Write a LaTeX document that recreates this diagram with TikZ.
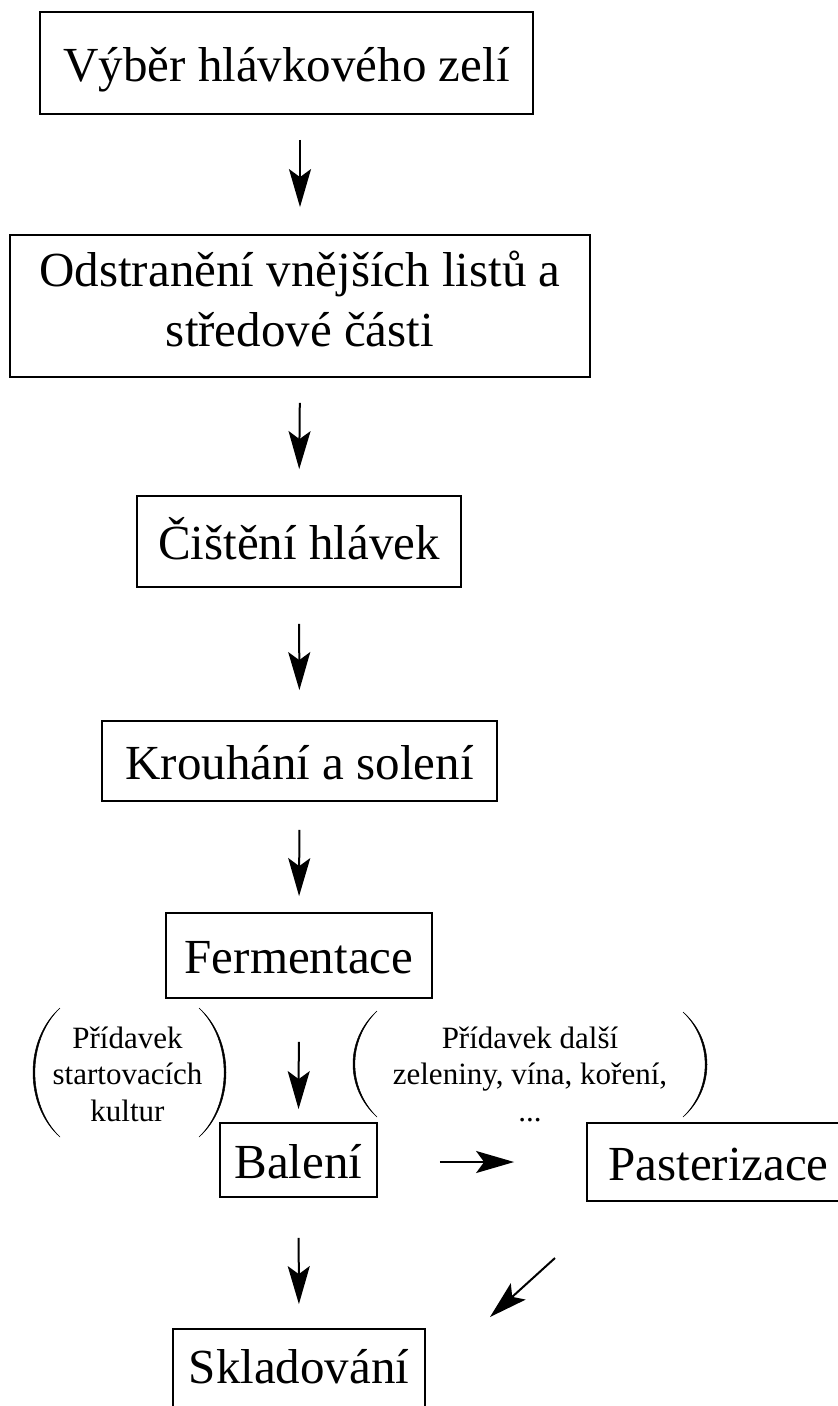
\documentclass[tikz,border=0pt]{standalone}
\usepackage{fontspec}
\setmainfont{Liberation Serif}
\usepackage{tikz}
\usetikzlibrary{arrows.meta}

\newcommand{\stagefont}{\fontsize{49}{60}\selectfont}
\newcommand{\notefont}{\fontsize{31}{36.5}\selectfont}

\begin{document}
\begin{tikzpicture}[x=1pt, y=-1pt,
    stage/.style={draw, line width=1.8pt, inner sep=0pt, align=center, font=\stagefont},
    oneline/.style={text height=36pt, text depth=0pt},
    note/.style={inner sep=0pt, align=center, font=\notefont},
    arr/.style={line width=2pt, -{Stealth[length=38pt, width=22pt, inset=8pt]}},
    paren/.style={fill=black, line width=0.5pt}]

    \useasboundingbox (0,0) rectangle (838,1406);
    \clip (0,0) rectangle (838,1406);

    \node[stage, oneline, minimum width=493pt, minimum height=102pt] (vyber) at (286.5,63) {Výběr hlávkového zelí};

    \node[stage, minimum width=580pt, minimum height=142pt] (odstr) at (300,306) {Odstranění vnějších listů a\\středové části\rule[-14pt]{0pt}{0pt}};

    \node[stage, oneline, minimum width=324pt, minimum height=91pt] (cisteni) at (299,541.5) {Čištění hlávek};

    \node[stage, oneline, minimum width=395pt, minimum height=80pt] (krouh) at (299.5,761) {Krouhání a solení};

    \node[stage, oneline, minimum width=266pt, minimum height=85pt] (ferm) at (299,955.5) {Fermentace};

    \node[note] (start) at (127.5,1074) {Přídavek\\startovacích\\kultur};
    \node[note] (dalsi) at (530,1074) {Přídavek další\\zeleniny, vína, koření,\\...};

    \node[stage, oneline, minimum width=157pt, minimum height=74pt] (baleni) at (298.5,1160) {Balení};

    \node[stage, oneline, minimum width=263pt, minimum height=78pt] (paster) at (718.5,1162) {Pasterizace};

    \node[stage, oneline, text depth=10pt, minimum width=252pt, minimum height=82pt] (sklad) at (299,1370) {Skladování};

    \coordinate (dfrom) at (555,1258);
    \coordinate (dto) at (490,1317);

    \draw[paren] (60,1008) .. controls (24,1040) and (24,1105) .. (60,1137) .. controls (26.5,1105) and (26.5,1040) .. (60,1008);
    \draw[paren] (199,1008) .. controls (235,1040) and (235,1105) .. (199,1137) .. controls (232.5,1105) and (232.5,1040) .. (199,1008);
    \draw[paren] (377,1011) .. controls (345,1040) and (345,1088) .. (377,1117) .. controls (347.5,1088) and (347.5,1040) .. (377,1011);
    \draw[paren] (683,1012) .. controls (715,1040) and (715,1089) .. (683,1117) .. controls (712.5,1089) and (712.5,1040) .. (683,1012);

    \draw[arr, shorten <=25pt, shorten >=27pt] (vyber.south -| odstr) to (odstr.north);
    \draw[arr, shorten <=25pt, shorten >=26pt] (odstr.south) to (cisteni.north);
    \draw[arr, shorten <=36pt, shorten >=30pt] (cisteni.south) to (krouh.north);
    \draw[arr, shorten <=28pt, shorten >=16pt] (krouh.south) to (ferm.north);
    \draw[arr, shorten <=43pt, shorten >=13pt] (ferm.south) to (baleni.north);
    \draw[arr, shorten <=62pt, shorten >=72pt] (baleni.east |- paster) to (paster.west);
    \draw[arr, shorten <=40pt, shorten >=24pt] (baleni.south) to (sklad.north);
    \draw[arr] (dfrom) to (dto);
\end{tikzpicture}
\end{document}
